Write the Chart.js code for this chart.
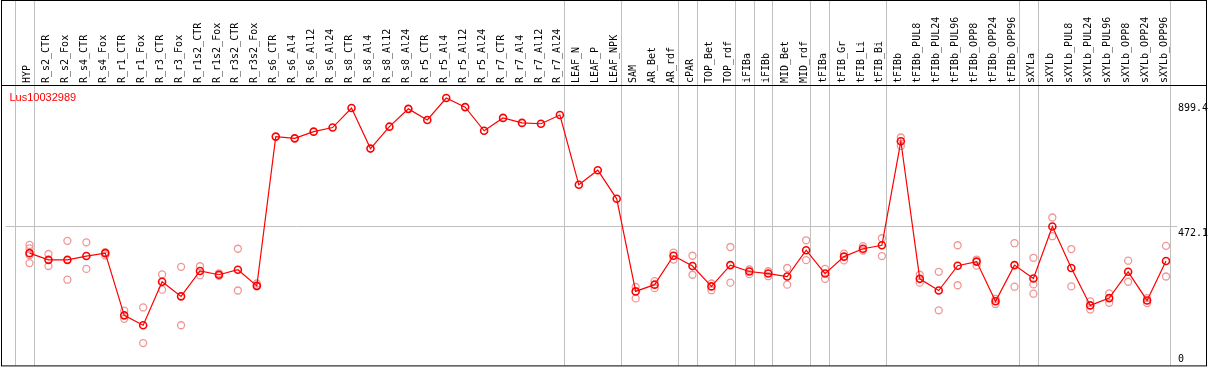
<!DOCTYPE html>
<html><head><meta charset="utf-8">
<script src="https://cdn.jsdelivr.net/npm/chart.js@4/dist/chart.umd.min.js"></script>
<style>html,body{margin:0;padding:0;background:#fff}canvas{display:block}</style>
</head><body>
<canvas id="c" width="1209" height="370"></canvas>
<script>
const title = 'Lus10032989';
const categories = ['HYP','R_s2_CTR','R_s2_Fox','R_s4_CTR','R_s4_Fox','R_r1_CTR','R_r1_Fox','R_r3_CTR','R_r3_Fox','R_r1s2_CTR','R_r1s2_Fox','R_r3s2_CTR','R_r3s2_Fox',
  'R_s6_CTR','R_s6_Al4','R_s6_Al12','R_s6_Al24','R_s8_CTR','R_s8_Al4','R_s8_Al12','R_s8_Al24','R_r5_CTR','R_r5_Al4','R_r5_Al12','R_r5_Al24','R_r7_CTR','R_r7_Al4','R_r7_Al12','R_r7_Al24',
  'LEAF_N','LEAF_P','LEAF_NPK','SAM','AR_Bet','AR_rdf','cPAR','TOP_Bet','TOP_rdf','iFIBa','iFIBb','MID_Bet','MID_rdf','tFIBa','tFIB_Gr','tFIB_Li','tFIB_Bi',
  'tFIBb','tFIBb_PUL8','tFIBb_PUL24','tFIBb_PUL96','tFIBb_OPP8','tFIBb_OPP24','tFIBb_OPP96','sXYLa','sXYLb','sXYLb_PUL8','sXYLb_PUL24','sXYLb_PUL96','sXYLb_OPP8','sXYLb_OPP24','sXYLb_OPP96'];
const means = [381,358,358,371,381,168,134,283,233,320,307,324,269,
  780,774,797,811,878,739,814,875,837,912,881,800,844,827,824,854,
  615,665,567,
  250,273,372,337,267,340,318,311,301,391,311,369,396,408,
  764,293,253,338,352,216,340,294,472,330,202,227,317,219,354];
const replicates = [[409,397,374,347],[378,337],[423,290],[418,327],[384,373],[184,156],[195,73],[308,256],[334,134],[336,305],[312,303],[396,253],[277,267],
  [],[],[],[],[],[],[],[],[],[],[],[],[],[],[],[],
  [],[],[],
  [265,226],[285,261],[383,359],[372,307],[277,254],[402,280],[325,309],[319,302],[330,273],[425,357],[327,293],[379,356],[405,390],[432,371],
  [777,748],[307,280],[317,185],[408,271],[359,338],[224,207],[415,266],[365,274,242],[503,439],[395,267],[216,188],[243,211],[355,283],[227,210],[406,301]];
const groupEnds = [-1,0,28,31,34,35,37,38,39,41,42,45,52,53,60];
const yTicks = [0, 472.1, 899.4];
const yTickLabels = ['0','472.1','899.4'];

const meanPts = means.map((v,i)=>({x:i,y:v}));
const repPts = replicates.flatMap((arr,i)=>arr.map(v=>({x:i,y:v})));

const frame = {
  id:'frame',
  beforeDatasetsDraw(chart){
    const {ctx, chartArea, scales:{x}} = chart;
    ctx.save(); ctx.strokeStyle='#c0c0c0'; ctx.lineWidth=1;
    groupEnds.forEach(b=>{
      const px=Math.floor(x.getPixelForValue(b+0.25))+0.5;
      ctx.beginPath(); ctx.moveTo(px,0); ctx.lineTo(px,chartArea.bottom+1); ctx.stroke();
    });
    ctx.restore();
  },
  afterDraw(chart){
    const {ctx, chartArea, scales:{y}} = chart;
    ctx.save();
    ctx.strokeStyle='#000'; ctx.lineWidth=1;
    ctx.strokeRect(1.5,0.5,1205,chartArea.bottom+1);
    ctx.beginPath(); ctx.moveTo(1,chartArea.top+0.5); ctx.lineTo(1207,chartArea.top+0.5); ctx.stroke();
    ctx.fillStyle='#f00'; ctx.font='11px "Liberation Sans"'; ctx.textBaseline='alphabetic';
    ctx.fillText(title, 9.5, chartArea.top+16);
    ctx.fillStyle='#000'; ctx.font='10px "DejaVu Sans Mono"'; ctx.textBaseline='top'; ctx.textAlign='left';
    yTicks.forEach((v,k)=>{
      let py=y.getPixelForValue(v)+2;
      py=Math.min(py, chartArea.bottom-10);
      ctx.fillText(yTickLabels[k], chartArea.right+8, py);
    });
    ctx.restore();
  }
};

new Chart(document.getElementById('c'), {
  type:'line',
  data:{datasets:[
    {data:meanPts, borderColor:'#ff0000', borderWidth:1.2, pointRadius:3.5, pointBorderWidth:1.6,
     pointBorderColor:'#ff0000', pointBackgroundColor:'rgba(0,0,0,0)', tension:0, order:0},
    {data:repPts, showLine:false, pointRadius:3.5, pointBorderWidth:1.3,
     pointBorderColor:'rgb(240,150,150)', pointBackgroundColor:'rgba(0,0,0,0)', order:1}
  ]},
  options:{
    responsive:false, devicePixelRatio:1, animation:false,
    layout:{padding:{left:2,right:0,top:0,bottom:2}},
    plugins:{legend:{display:false}, tooltip:{enabled:false}},
    scales:{
      x:{type:'linear', position:'top', min:-24/19, max:1144/19,
        afterBuildTicks:s=>{ s.ticks = categories.map((_,i)=>({value:i})); },
        afterFit:s=>{ s.height = 85; },
        grid:{display:false, drawTicks:false}, border:{display:false},
        ticks:{autoSkip:false, minRotation:90, maxRotation:90, padding:2, labelOffset:10, color:'#000',
          font:{family:'DejaVu Sans Mono', size:10}, callback:(v)=>categories[v]}
      },
      y:{type:'linear', position:'right', min:0, max:956.7,
        afterBuildTicks:s=>{ s.ticks = yTicks.map(v=>({value:v})); },
        afterFit:s=>{ s.width = 39; },
        grid:{color:c=>(c.tick && c.tick.value===472.1) ? '#c0c0c0' : 'rgba(0,0,0,0)', drawTicks:true, tickLength:7, lineWidth:1},
        border:{display:false},
        ticks:{display:false}
      }
    }
  },
  plugins:[frame]
});
</script>
</body></html>
